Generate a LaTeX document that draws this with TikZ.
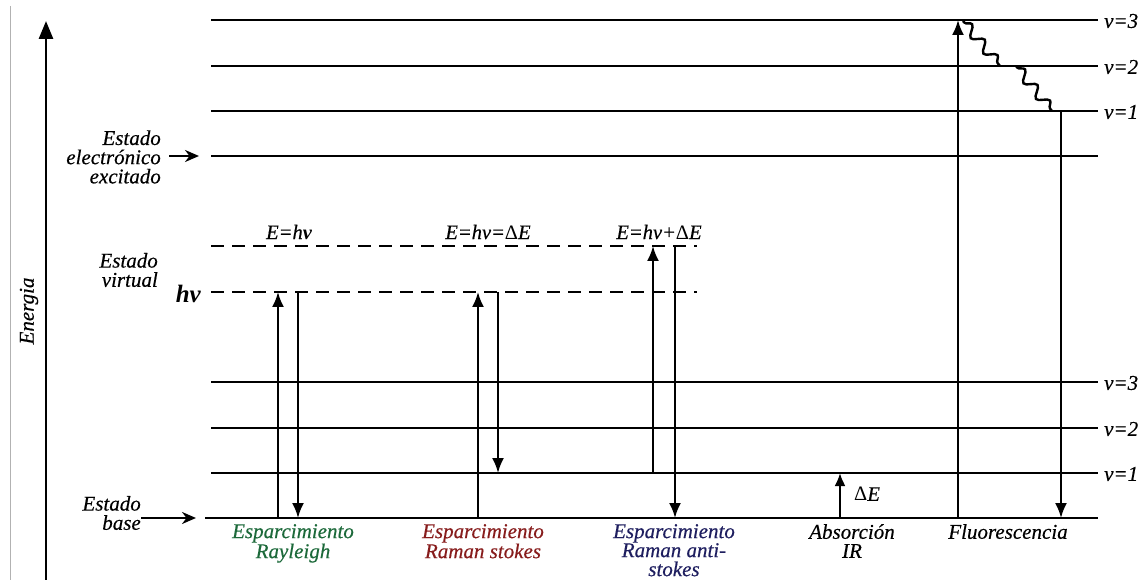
\documentclass[tikz,border=0pt]{standalone}
\usepackage{fontspec}
\setmainfont{Liberation Serif}[ItalicFeatures={FakeBold=0.4}]
\usetikzlibrary{arrows.meta,decorations.pathmorphing}
\definecolor{rayg}{RGB}{28,105,58}
\definecolor{stkr}{RGB}{135,28,28}
\definecolor{antb}{RGB}{30,30,95}
\tikzset{
  level/.style={line width=2.9pt},
  vlevel/.style={line width=2.9pt, dash pattern=on 13pt off 8pt},
  trans/.style={line width=2.2pt},
  up/.style={trans, -{Latex[length=15pt,width=12pt]}},
  lab/.style={font=\itshape\fontsize{21}{19}\selectfont, inner sep=0pt, align=center},
  vlab/.style={font=\itshape\fontsize{21}{21}\selectfont, inner sep=0pt, anchor=west},
  elab/.style={font=\itshape\fontsize{20.5}{20}\selectfont, inner sep=0pt},
  side/.style={font=\itshape\fontsize{21}{19.2}\selectfont, inner sep=0pt, align=right, anchor=east},
  pointer/.style={line width=2.4pt, -{Stealth[length=14pt,width=12pt]}},
  wave/.style={line width=2.4pt, decorate, decoration={snake, segment length=20pt, amplitude=5pt, pre length=2pt, post length=2pt}}
}
\begin{document}
\begin{tikzpicture}[x=1pt,y=-1pt]
\useasboundingbox (0,0) rectangle (1144,580);
% page border line
\draw[gray!60, line width=0.9pt] (10,6) -- (10,580);
% energy axis
\coordinate (ax0) at (46,580);
\coordinate (ax1) at (46,21);
\draw[line width=2.8pt, -{Triangle[length=18pt,width=14pt]}] (ax0) -- (ax1);
\node[rotate=90, inner sep=0pt, font=\itshape\fontsize{21}{21}\selectfont] (energia) at (29,311) {Energia};

% electronic excited levels
\foreach \n/\y/\t in {e3/20/3, e2/66/2, e1/111/1} {
  \coordinate (\n a) at (211,\y);
  \coordinate (\n b) at (1098,\y);
  \draw[level] (\n a) -- (\n b);
  \node[vlab] (\n l) at (1104,\y+1) {v=\t};
}
\coordinate (e0a) at (211,156);
\coordinate (e0b) at (1098,156);
\draw[level] (e0a) -- (e0b);

% virtual states
\coordinate (va1) at (211,246);
\coordinate (vb1) at (697,246);
\coordinate (va0) at (211,292);
\coordinate (vb0) at (697,292);
\draw[vlevel] (va1) -- (vb1);
\draw[vlevel] (va0) -- (vb0);

% ground vibrational levels
\foreach \n/\y/\t in {g3/382/3, g2/428/2, g1/473/1} {
  \coordinate (\n a) at (211,\y);
  \coordinate (\n b) at (1098,\y);
  \draw[level] (\n a) -- (\n b);
  \node[vlab] (\n l) at (1104,\y+1) {v=\t};
}
\coordinate (g0a) at (205,518);
\coordinate (g0b) at (1098,518);
\draw[level] (g0a) -- (g0b);

% side labels
\node[side] (exc) at (161,157) {Estado\\electrónico\\excitado};
\coordinate (excA) at (169,156);
\coordinate (excB) at (199,156);
\draw[pointer] (excA) -- (excB);
\node[side] (virt) at (158,270) {Estado\\virtual};
\node[inner sep=0pt, anchor=east, font=\bfseries\itshape\fontsize{25}{25}\selectfont] (hnu) at (201,294) {hν};
\node[side] (base) at (141,513) {Estado\\base};
\coordinate (baseA) at (141,518);
\coordinate (baseB) at (196,518);
\draw[pointer] (baseA) -- (baseB);

% energy labels
\node[elab] (E1) at (289,232) {E=h\textbf{ν}};
\node[elab] (E2) at (488,232) {E=hν=\textup{Δ}E};
\node[elab] (E3) at (659,232) {E=hν+\textup{Δ}E};

% Rayleigh
\coordinate (ra0) at (278,518); \coordinate (ra1) at (278,292);
\coordinate (rb1) at (298,292); \coordinate (rb0) at (298,518);
\draw[up] (ra0) -- (ra1);
\draw[up] (rb1) -- (rb0);
% Raman stokes
\coordinate (sa0) at (478,518); \coordinate (sa1) at (478,292);
\coordinate (sb1) at (498,292); \coordinate (sb0) at (498,473);
\draw[up] (sa0) -- (sa1);
\draw[up] (sb1) -- (sb0);
% Raman anti-stokes
\coordinate (aa0) at (653,473); \coordinate (aa1) at (653,246);
\coordinate (ab1) at (675,246); \coordinate (ab0) at (675,518);
\draw[up] (aa0) -- (aa1);
\draw[up] (ab1) -- (ab0);
% IR absorption
\coordinate (ir0) at (840,518); \coordinate (ir1) at (840,473);
\draw[trans, -{Latex[length=13pt,width=11pt]}] (ir0) -- (ir1);
\node[elab, anchor=west] (dE) at (854,494) {\textup{Δ}E};
% fluorescence
\coordinate (fa0) at (958,518); \coordinate (fa1) at (958,20);
\coordinate (fb1) at (1061,111); \coordinate (fb0) at (1061,518);
\draw[up] (fa0) -- (fa1);
\coordinate (w0) at (963,21);
\coordinate (w1) at (1000,66);
\coordinate (w2) at (1016,66);
\coordinate (w3) at (1052,111);
\draw[wave] (w0) -- (w1);
\draw[wave] (w2) -- (w3);
\draw[line width=2.2pt] (w3) -- (fb1);
\draw[up] (fb1) -- (fb0);

% bottom labels
\node[lab, text=rayg, anchor=north] (lray) at (293,524) {Esparcimiento\\Rayleigh};
\node[lab, text=stkr, anchor=north] (lsto) at (483,524) {Esparcimiento\\Raman stokes};
\node[lab, text=antb, anchor=north] (lant) at (674,524) {Esparcimiento\\Raman anti-\\stokes};
\node[lab, anchor=north] (lir) at (852,524) {Absorción\\IR};
\node[lab, anchor=north] (lflu) at (1008,524) {Fluorescencia};
\end{tikzpicture}
\end{document}
